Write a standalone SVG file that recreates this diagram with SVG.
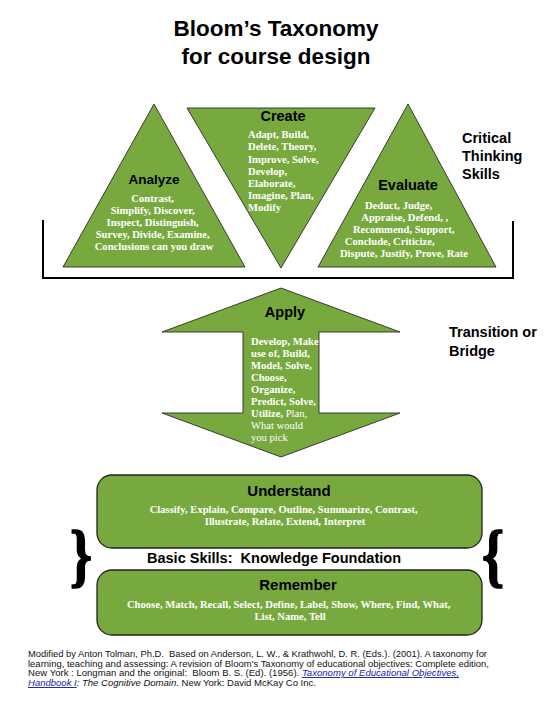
<svg xmlns="http://www.w3.org/2000/svg" width="552" height="701" viewBox="0 0 552 701">
<style>
.shape{fill:#78a93e;stroke:#2a2a2a;stroke-width:0.9}
.box{fill:#78a93e;stroke:#222;stroke-width:1.3}
.hd{font-family:"Liberation Sans",Arial,sans-serif;font-weight:bold;fill:#000;white-space:pre}
.bd{font-family:"Liberation Serif","Times New Roman",serif;font-weight:bold;font-size:10.6px;fill:#fff}
.bdr{font-family:"Liberation Serif","Times New Roman",serif;font-weight:normal;font-size:10.6px;fill:#fff}
.ft{font-family:"Liberation Sans",Arial,sans-serif;font-size:9.3px;fill:#111;white-space:pre}
.lnk{fill:#1a1aa8;font-style:italic;text-decoration:underline}
.brace{font-family:"Liberation Serif","Times New Roman",serif;font-weight:bold;font-size:70px;fill:#000;stroke:#000;stroke-width:1.6}
</style>
<rect width="552" height="701" fill="#fff"/>
<g id="title">
<text class="hd" x="276" y="36" font-size="22.5" text-anchor="middle">Bloom’s Taxonomy</text>
<text class="hd" x="276" y="64" font-size="22.5" text-anchor="middle">for course design</text>
</g>
<g id="connectors">
<path d="M43 220 V278 H513 V221" fill="none" stroke="#000" stroke-width="2"/>
</g>
<g id="analyze">
<polygon class="shape" points="154,104 245,267 63,267"/>
<text class="hd" x="154" y="184" font-size="13.5" text-anchor="middle">Analyze</text>
<text class="bd" text-anchor="middle">
<tspan x="154" y="202">Contrast,</tspan>
<tspan x="154" y="214">Simplify, Discover,</tspan>
<tspan x="154" y="226">Inspect, Distinguish,</tspan>
<tspan x="154" y="238">Survey, Divide, Examine,</tspan>
<tspan x="154" y="250">Conclusions can you draw</tspan>
</text>
</g>
<g id="create">
<polygon class="shape" points="187,108 375,108 281,268"/>
<text class="hd" x="283" y="121" font-size="14.5" text-anchor="middle">Create</text>
<text class="bd">
<tspan x="248" y="138">Adapt, Build,</tspan>
<tspan x="248" y="150">Delete, Theory,</tspan>
<tspan x="248" y="163">Improve, Solve,</tspan>
<tspan x="248" y="175">Develop,</tspan>
<tspan x="248" y="187">Elaborate,</tspan>
<tspan x="248" y="199">Imagine, Plan,</tspan>
<tspan x="248" y="211">Modify</tspan>
</text>
</g>
<g id="evaluate">
<polygon class="shape" points="408,104 496,267 318,267"/>
<text class="hd" x="408" y="190" font-size="14.5" text-anchor="middle">Evaluate</text>
<text class="bd" text-anchor="middle">
<tspan x="400" y="209">Deduct, Judge,</tspan>
<tspan x="406" y="221">Appraise, Defend, ,</tspan>
<tspan x="405" y="233">Recommend, Support,</tspan>
<tspan x="391" y="245">Conclude, Criticize,</tspan>
<tspan x="404" y="257">Dispute, Justify, Prove, Rate</tspan>
</text>
</g>
<g id="critical-label">
<text class="hd" font-size="14.5">
<tspan x="462" y="143">Critical</tspan>
<tspan x="462" y="161">Thinking</tspan>
<tspan x="462" y="179">Skills</tspan>
</text>
</g>
<g id="apply">
<polygon class="shape" points="281,288 400,332 319,332 319,413 400,413 281,457 162,413 243,413 243,332 162,332"/>
<text class="hd" x="285" y="317" font-size="14.5" text-anchor="middle">Apply</text>
<text class="bd">
<tspan x="251" y="345">Develop, Make</tspan>
<tspan x="251" y="357">use of, Build,</tspan>
<tspan x="251" y="369">Model, Solve,</tspan>
<tspan x="251" y="381">Choose,</tspan>
<tspan x="251" y="393">Organize,</tspan>
<tspan x="251" y="405">Predict, Solve,</tspan>
<tspan x="251" y="417">Utilize, <tspan class="bdr">Plan,</tspan></tspan>
</text>
<text class="bdr">
<tspan x="251" y="429">What would</tspan>
<tspan x="251" y="441">you pick</tspan>
</text>
</g>
<g id="transition-label">
<text class="hd" font-size="14.5">
<tspan x="449" y="337">Transition or</tspan>
<tspan x="449" y="356">Bridge</tspan>
</text>
</g>
<g id="understand">
<rect class="box" x="97" y="475" width="385" height="73" rx="15"/>
<text class="hd" x="289" y="496" font-size="15" text-anchor="middle">Understand</text>
<text class="bd" text-anchor="middle">
<tspan x="285" y="513">Classify, Explain, Compare, Outline, Summarize, Contrast,</tspan>
<tspan x="285" y="525">Illustrate, Relate, Extend, Interpret</tspan>
</text>
</g>
<g id="basic-label">
<text class="hd" x="147" y="563" font-size="14" textLength="254" lengthAdjust="spacingAndGlyphs">Basic Skills:  Knowledge Foundation</text>
<text class="brace" transform="translate(81,579) scale(0.8,1)" text-anchor="middle">}</text>
<text class="brace" transform="translate(493,579) scale(0.8,1)" text-anchor="middle">{</text>
</g>
<g id="remember">
<rect class="box" x="97" y="570" width="385" height="65" rx="15"/>
<text class="hd" x="298" y="590" font-size="15" text-anchor="middle">Remember</text>
<text class="bd" text-anchor="middle">
<tspan x="290" y="608">Choose, Match, Recall, Select, Define, Label, Show, Where, Find, What,</tspan>
<tspan x="290" y="620">List, Name, Tell</tspan>
</text>
</g>
<g id="footer">
<text class="ft" x="28" y="657" textLength="459" lengthAdjust="spacingAndGlyphs">Modified by Anton Tolman, Ph.D.  Based on Anderson, L. W., &amp; Krathwohl, D. R. (Eds.). (2001). A taxonomy for</text>
<text class="ft" x="28" y="667" textLength="461" lengthAdjust="spacingAndGlyphs">learning, teaching and assessing: A revision of Bloom's Taxonomy of educational objectives: Complete edition,</text>
<text class="ft" x="28" y="676" textLength="431" lengthAdjust="spacingAndGlyphs">New York : Longman and the original:  Bloom B. S. (Ed). (1956). <tspan class="lnk">Taxonomy of Educational Objectives,</tspan></text>
<text class="ft" x="28" y="686" textLength="288" lengthAdjust="spacingAndGlyphs"><tspan class="lnk">Handbook I</tspan><tspan font-style="italic">: The Cognitive Domain</tspan>. New York: David McKay Co Inc.</text>
</g>
</svg>
